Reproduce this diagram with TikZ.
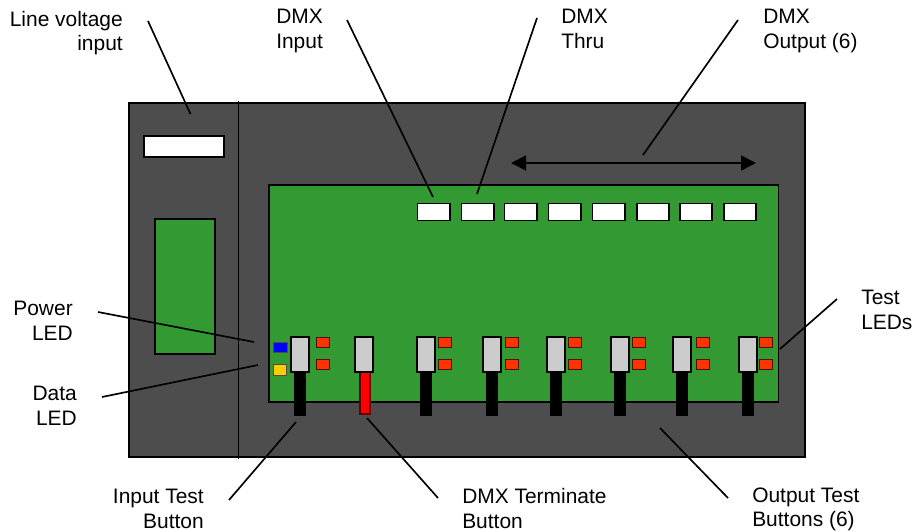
\documentclass[tikz,border=0pt]{standalone}
\usepackage{fontspec}
\setmainfont{Liberation Sans}
\usetikzlibrary{arrows.meta}
\definecolor{housing}{HTML}{4D4D4D}
\definecolor{board}{HTML}{339933}
\definecolor{led}{HTML}{FF3300}
\definecolor{swgray}{HTML}{CCCCCC}
\definecolor{ylw}{HTML}{FFCC00}
\tikzset{
  shell/.style={fill=housing,draw=black,line width=1.5pt},
  pcb/.style={fill=board,draw=black,line width=1.1pt},
  port/.style={fill=white,draw=black,line width=1.2pt},
  sw/.style={fill=swgray,draw=black,line width=1.2pt},
  stem/.style={fill=black,draw=black,line width=.3pt},
  redstem/.style={fill=red,draw=black!60!red,line width=.9pt},
  ledbox/.style={fill=led,draw=black!70!led,line width=.7pt},
  lamp/.style={draw=black!70,line width=.7pt},
  leader/.style={draw=black,line width=1.25pt},
  lbl/.style={font=\fontsize{15.7pt}{18.45pt}\selectfont,inner sep=0pt},
}
\begin{document}
\begin{tikzpicture}[x=0.75pt,y=-0.75pt]
\useasboundingbox (0,0) rectangle (915,532);
\path[shell] (129,103) rectangle (805,457);
\draw[leader] (238.5,101) -- (238.5,459);
\path[port] (144,136) rectangle (224,157);
\path[pcb] (155,219) rectangle (215,354);
\path[pcb] (269,185) rectangle (778.5,402);
\foreach \x/\y in {417.5/450,461.5/494,504.5/537,548.5/581,592.5/625,637/669,680/712,724/756}
  \path[port] (\x,203.5) rectangle (\y,220.5);
% switches
\foreach \x in {291,417,483,547,611,673,739}{
  \path[stem] (\x+3,372) rectangle (\x+14,415);
  \path[sw] (\x,337) rectangle (\x+18,372);
}
\path[redstem] (360,372) rectangle (370,414);
\path[sw] (355,337) rectangle (373,372);
% LEDs
\foreach \x in {316,438,505,568,632,696,759}{
  \path[ledbox] (\x,337) rectangle (\x+13.5,347);
  \path[ledbox] (\x,359) rectangle (\x+13.5,369);
}
\path[lamp,fill=blue] (273,342) rectangle (287,352);
\path[lamp,fill=ylw] (273,364) rectangle (286,375);
% arrow
\coordinate (arrL) at (511,163);
\coordinate (arrR) at (756,163);
\draw[leader,{Triangle[length=15*0.75pt,width=15*0.75pt]}-{Triangle[length=15*0.75pt,width=15*0.75pt]}] (arrL) -- (arrR);
% labels
\node[lbl,align=right,anchor=north east] (lv) at (123,10.7) {Line voltage\\input};
\node[lbl,align=left,anchor=north west] (dmxin) at (276,9.2) {DMX\\Input};
\node[lbl,align=left,anchor=north west] (dmxth) at (561,9.2) {DMX\\Thru};
\node[lbl,align=left,anchor=north west] (dmxout) at (763,9.2) {DMX\\Output (6)};
\node[lbl,align=right,anchor=north east] (pwr) at (73,301.2) {Power\\LED};
\node[lbl,align=right,anchor=north east] (data) at (77,386.2) {Data\\LED};
\node[lbl,align=left,anchor=north west] (test) at (861,290.2) {Test\\LEDs};
\node[lbl,align=right,anchor=north east] (itb) at (204,489.2) {Input Test\\Button};
\node[lbl,align=left,anchor=north west] (dtb) at (462,488.2) {DMX Terminate\\Button};
\node[lbl,align=left,anchor=north west] (otb) at (752,487.2) {Output Test\\Buttons (6)};
% leader ends
\foreach \n/\ax/\ay/\bx/\by in {a/148/21/190.5/114,b/347/20/433/197,c/537/18/477/194,d/738/20/643/155,e/98/312/254/342,f/102/397/258/365,g/837/299/780/349,h/229/500/296/422,i/438/498/367/418,j/728/498/660/428}{
  \coordinate (\n1) at (\ax,\ay);
  \coordinate (\n2) at (\bx,\by);
  \draw[leader] (\n1) -- (\n2);
}
\end{tikzpicture}
\end{document}
